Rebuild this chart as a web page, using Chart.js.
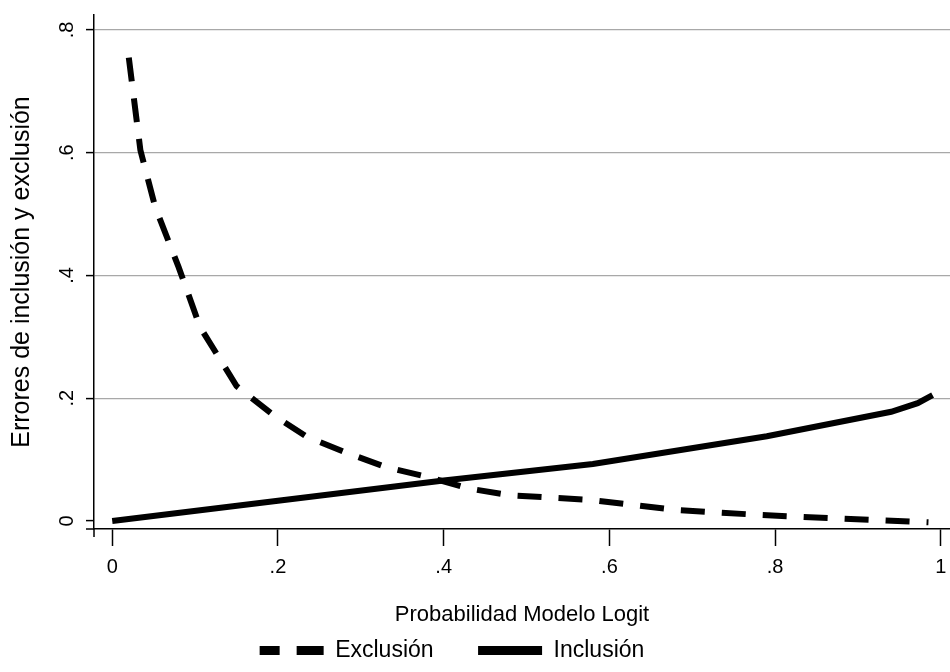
<!DOCTYPE html>
<html>
<head>
<meta charset="utf-8">
<script src="https://cdn.jsdelivr.net/npm/chart.js@4"></script>
<style>
    html, body { margin: 0; padding: 0; background: #fff; }
    #wrap { width: 950px; height: 672px; }
</style>
</head>
<body>
<div id="wrap"><canvas id="chart"></canvas></div>
<script>
// Values
const exclusionX = [0.02, 0.034, 0.052, 0.08, 0.106, 0.15, 0.194, 0.235, 0.283, 0.33, 0.38, 0.43, 0.48, 0.58, 0.68, 0.78, 0.88, 0.985];
const exclusionY = [0.755, 0.604, 0.511, 0.414, 0.316, 0.22, 0.173, 0.137, 0.111, 0.088, 0.072, 0.053, 0.042, 0.034, 0.018, 0.01, 0.004, -0.002];
const inclusionX = [0, 0.2, 0.4, 0.58, 0.79, 0.94, 0.972, 0.99];
const inclusionY = [0, 0.033, 0.066, 0.093, 0.138, 0.178, 0.192, 0.205];

const seriesLabels = ['Exclusión', 'Inclusión'];
const xTickValues = [0, 0.2, 0.4, 0.6, 0.8, 1];
const xTickLabels = ['0', '.2', '.4', '.6', '.8', '1'];
const yTickValues = [0, 0.2, 0.4, 0.6, 0.8];
const yTickLabels = ['0', '.2', '.4', '.6', '.8'];

const FONT = "'Liberation Sans', Arial, sans-serif";

function toPoints(xs, ys) {
    return xs.map((x, i) => ({ x: x, y: ys[i] }));
}

function tickLabel(values, labels, v) {
    const i = values.findIndex(t => Math.abs(t - v) < 1e-6);
    return i >= 0 ? labels[i] : '';
}

// Stata-style little overhangs where the two axes meet
const axisStubs = {
    id: 'axisStubs',
    afterDraw(chart) {
        const { ctx, chartArea } = chart;
        ctx.save();
        ctx.strokeStyle = '#000';
        ctx.lineWidth = 1.5;
        ctx.beginPath();
        ctx.moveTo(chartArea.left, chartArea.bottom);
        ctx.lineTo(chartArea.left, chartArea.bottom + 8);
        ctx.moveTo(chartArea.left - 8, chartArea.bottom);
        ctx.lineTo(chartArea.left, chartArea.bottom);
        ctx.stroke();
        ctx.restore();
    }
};

const ctx = document.getElementById('chart').getContext('2d');

new Chart(ctx, {
    type: 'line',
    data: {
        datasets: [{
            label: seriesLabels[0],
            data: toPoints(exclusionX, exclusionY),
            borderColor: '#000',
            borderWidth: 6,
            borderDash: [24, 17],
            pointRadius: 0,
            tension: 0,
            fill: false
        }, {
            label: seriesLabels[1],
            data: toPoints(inclusionX, inclusionY),
            borderColor: '#000',
            borderWidth: 6,
            pointRadius: 0,
            tension: 0,
            fill: false
        }]
    },
    options: {
        responsive: true,
        maintainAspectRatio: false,
        animation: false,
        layout: { padding: { top: 15, right: 0, left: 0, bottom: 0 } },
        plugins: {
            tooltip: { enabled: false },
            legend: {
                position: 'bottom',
                labels: {
                    usePointStyle: true,
                    pointStyleWidth: 64,
                    padding: 10,
                    color: '#000',
                    font: { family: FONT, size: 23 },
                    generateLabels: function(chart) {
                        // trailing spaces only widen the gaps, the way the original legend is spread
                        return chart.data.datasets.map((ds, i) => ({
                            text: ds.label + (i === 0 ? '\u2003\u2002' : '\u2003\u2003'),
                            fillStyle: '#000',
                            strokeStyle: '#000',
                            fontColor: '#000',
                            lineWidth: 9,
                            lineDash: ds.borderDash ? [20, 17, 30, 10] : [],
                            pointStyle: 'line',
                            hidden: false,
                            datasetIndex: i
                        }));
                    }
                }
            }
        },
        scales: {
            x: {
                type: 'linear',
                min: -0.022,
                max: 1.011,
                afterFit: function(scale) {
                    scale.height = 100;
                    scale.paddingLeft = 0;
                    scale.paddingRight = 0;
                },
                border: { display: true, color: '#000', width: 1.5 },
                grid: {
                    drawOnChartArea: false,
                    drawTicks: true,
                    tickLength: 17,
                    tickColor: '#000',
                    tickWidth: 1.5
                },
                ticks: {
                    stepSize: 0.2,
                    includeBounds: false,
                    maxRotation: 0,
                    autoSkip: false,
                    padding: 9,
                    color: '#000',
                    font: { family: FONT, size: 20 },
                    callback: v => tickLabel(xTickValues, xTickLabels, v)
                },
                title: {
                    display: true,
                    text: 'Probabilidad Modelo Logit',
                    color: '#000',
                    font: { family: FONT, size: 22 },
                    padding: { top: 0, bottom: 1 }
                }
            },
            y: {
                type: 'linear',
                min: -0.013,
                max: 0.8244,
                afterFit: function(scale) {
                    scale.width = 94;
                    scale.paddingTop = 0;
                    scale.paddingBottom = 0;
                },
                border: { display: true, color: '#000', width: 1.5 },
                grid: {
                    drawOnChartArea: true,
                    color: ctx => (ctx.tick && Math.abs(ctx.tick.value) < 1e-6) ? 'rgba(0,0,0,0)' : '#a8a8a8',
                    lineWidth: 1.2,
                    drawTicks: true,
                    tickLength: 8,
                    tickColor: '#000',
                    tickWidth: 1.5
                },
                ticks: {
                    stepSize: 0.2,
                    includeBounds: false,
                    minRotation: 90,
                    maxRotation: 90,
                    crossAlign: 'center',
                    padding: 10,
                    color: '#000',
                    font: { family: FONT, size: 20 },
                    callback: v => tickLabel(yTickValues, yTickLabels, v)
                },
                title: {
                    display: true,
                    text: 'Errores de inclusión y exclusión',
                    color: '#000',
                    font: { family: FONT, size: 25 },
                    padding: { top: 7, bottom: 0 }
                }
            }
        }
    },
    plugins: [axisStubs]
});
</script>
</body>
</html>
